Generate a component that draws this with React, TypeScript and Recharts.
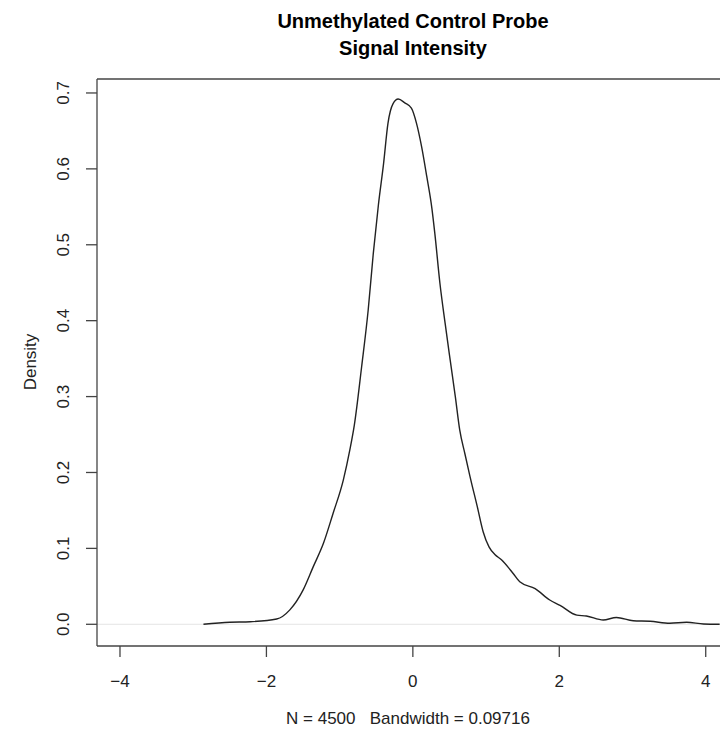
import { LineChart, Line, XAxis, YAxis, ReferenceLine } from "recharts";

const densityX = [
  -2.86, -2.5, -2.22, -1.86, -1.68, -1.5, -1.36, -1.22, -1.09, -0.95, -0.86, -0.8, -0.7, -0.61, -0.54,
  -0.47, -0.4, -0.34, -0.27, -0.2, -0.11, -0.02, 0.05, 0.12, 0.19, 0.26, 0.3, 0.37, 0.44, 0.51, 0.58,
  0.64, 0.71, 0.78, 0.88, 0.96, 1.04, 1.12, 1.21, 1.37, 1.46, 1.67, 1.87, 2.01, 2.24, 2.37, 2.6, 2.78,
  3.01, 3.24, 3.51, 3.74, 3.97, 4.19,
];
const densityY = [
  0, 0.0026, 0.0034, 0.007, 0.019, 0.045, 0.076, 0.107, 0.146, 0.19, 0.23, 0.262, 0.339, 0.414, 0.489,
  0.553, 0.607, 0.66, 0.686, 0.692, 0.687, 0.68, 0.66, 0.629, 0.59, 0.548, 0.515, 0.449, 0.397, 0.348,
  0.3, 0.256, 0.225, 0.195, 0.155, 0.122, 0.102, 0.092, 0.085, 0.067, 0.056, 0.047, 0.032, 0.025, 0.012,
  0.011, 0.0057, 0.009, 0.0047, 0.004, 0.0013, 0.0026, 0.0004, 0,
];
const xTicks = [-4, -2, 0, 2, 4];
const yTicks = [0, 0.1, 0.2, 0.3, 0.4, 0.5, 0.6, 0.7];
const titleLines = ["Unmethylated Control Probe", "Signal Intensity"];
const xLabel = "N = 4500   Bandwidth = 0.09716";
const yLabel = "Density";

const data = densityX.map((x, i) => ({ x, y: densityY[i] }));

const font = "'Liberation Sans', Arial, sans-serif";
const ink = "#222";

const XTick = (props: any) => {
  const { x, y, payload } = props;
  const v = payload.value;
  return (
    <text x={x} y={y + 22} dy="0.35em" textAnchor="middle" fontSize={17} fill={ink} fontFamily={font}>
      {v < 0 ? "\u2212" + Math.abs(v) : String(v)}
    </text>
  );
};

const YTick = (props: any) => {
  const { y, payload } = props;
  return (
    <text
      x={63}
      y={y}
      dy="0.35em"
      textAnchor="middle"
      fontSize={17}
      fill={ink}
      fontFamily={font}
      transform={`rotate(-90, 63, ${y})`}
    >
      {payload.value.toFixed(1)}
    </text>
  );
};

const App = () => {
  return (
    <div style={{ position: "absolute", left: 0, top: 0, width: 720, height: 736, background: "#fff" }}>
      <LineChart width={720} height={736} data={data} margin={{ top: 79, right: 0, left: 0, bottom: 0 }}>
        <XAxis
          dataKey="x"
          type="number"
          domain={[-4.314, 4.195]}
          allowDataOverflow
          ticks={xTicks}
          tick={<XTick />}
          tickSize={11}
          axisLine={{ stroke: "#444", strokeWidth: 1.3 }}
          tickLine={{ stroke: "#444", strokeWidth: 1.3 }}
          height={90}
        />
        <YAxis
          type="number"
          domain={[-0.0286, 0.7184]}
          allowDataOverflow
          ticks={yTicks}
          tick={<YTick />}
          tickSize={11}
          axisLine={{ stroke: "#444", strokeWidth: 1.3 }}
          tickLine={{ stroke: "#444", strokeWidth: 1.3 }}
          width={97}
        />
        <ReferenceLine y={0} stroke="#e4e4e4" strokeWidth={1} />
        <ReferenceLine y={0.7184} stroke="#444" strokeWidth={1.3} />
        <Line
          type="monotone"
          dataKey="y"
          stroke={ink}
          strokeWidth={1.4}
          dot={false}
          isAnimationActive={false}
        />
        <text x={413} y={21} dy="0.35em" textAnchor="middle" fontSize={20} fontWeight="bold" fill="#000" fontFamily={font}>
          {titleLines[0]}
        </text>
        <text x={413} y={48} dy="0.35em" textAnchor="middle" fontSize={20} fontWeight="bold" fill="#000" fontFamily={font}>
          {titleLines[1]}
        </text>
        <text
          x={408}
          y={718}
          dy="0.35em"
          textAnchor="middle"
          fontSize={17}
          fill={ink}
          fontFamily={font}
          style={{ whiteSpace: "pre" }}
        >
          {xLabel}
        </text>
        <text
          x={30}
          y={362}
          dy="0.35em"
          textAnchor="middle"
          fontSize={17}
          fill={ink}
          fontFamily={font}
          transform="rotate(-90, 30, 362)"
        >
          {yLabel}
        </text>
      </LineChart>
    </div>
  );
};

export default App;
